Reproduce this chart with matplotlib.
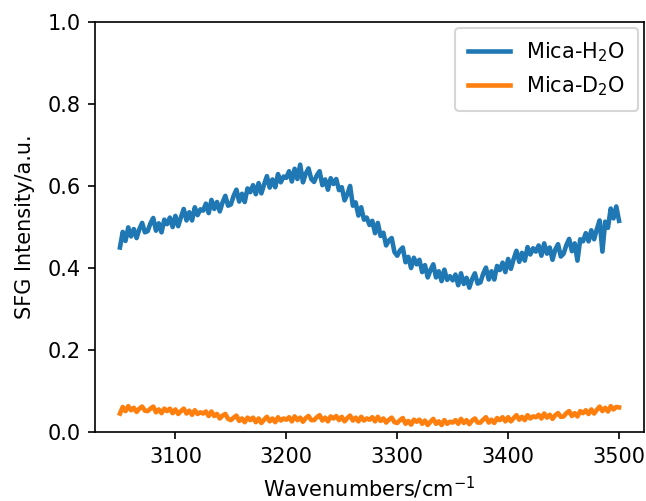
import matplotlib
matplotlib.use("Agg")
import numpy as np
import matplotlib.pyplot as plt

# spectra, one value every 2.5 cm-1
wavenumber = np.arange(3050, 3500.1, 2.5)

mica_h2o = [
    0.450, 0.488, 0.466, 0.499, 0.477, 0.495, 0.473, 0.495, 0.510, 0.487,
    0.490, 0.509, 0.522, 0.491, 0.509, 0.487, 0.518, 0.507, 0.523, 0.500,
    0.527, 0.502, 0.524, 0.544, 0.516, 0.536, 0.516, 0.548, 0.529, 0.543,
    0.540, 0.557, 0.534, 0.566, 0.544, 0.561, 0.538, 0.560, 0.576, 0.552,
    0.555, 0.576, 0.591, 0.562, 0.581, 0.561, 0.594, 0.585, 0.602, 0.580,
    0.607, 0.582, 0.604, 0.624, 0.596, 0.616, 0.597, 0.629, 0.609, 0.623,
    0.620, 0.636, 0.611, 0.642, 0.617, 0.652, 0.609, 0.630, 0.643, 0.617,
    0.610, 0.626, 0.636, 0.602, 0.616, 0.591, 0.619, 0.605, 0.617, 0.590,
    0.597, 0.565, 0.580, 0.600, 0.552, 0.560, 0.528, 0.548, 0.518, 0.523,
    0.505, 0.515, 0.485, 0.510, 0.478, 0.486, 0.455, 0.467, 0.473, 0.439,
    0.430, 0.443, 0.450, 0.414, 0.427, 0.400, 0.425, 0.409, 0.420, 0.390,
    0.407, 0.377, 0.395, 0.409, 0.377, 0.392, 0.368, 0.396, 0.371, 0.380,
    0.370, 0.384, 0.358, 0.387, 0.361, 0.376, 0.352, 0.373, 0.387, 0.362,
    0.365, 0.386, 0.401, 0.372, 0.392, 0.372, 0.405, 0.395, 0.413, 0.390,
    0.422, 0.398, 0.422, 0.442, 0.415, 0.437, 0.418, 0.451, 0.433, 0.448,
    0.440, 0.455, 0.430, 0.460, 0.435, 0.450, 0.420, 0.445, 0.458, 0.428,
    0.435, 0.456, 0.471, 0.441, 0.460, 0.418, 0.470, 0.465, 0.485, 0.465,
    0.492, 0.470, 0.495, 0.516, 0.440, 0.513, 0.498, 0.545, 0.521, 0.550,
    0.515,
]

mica_d2o = [
    0.045, 0.061, 0.051, 0.063, 0.053, 0.059, 0.049, 0.057, 0.062, 0.052,
    0.051, 0.057, 0.062, 0.048, 0.055, 0.046, 0.057, 0.051, 0.057, 0.046,
    0.055, 0.044, 0.051, 0.057, 0.045, 0.052, 0.042, 0.053, 0.044, 0.048,
    0.045, 0.050, 0.039, 0.050, 0.039, 0.044, 0.033, 0.040, 0.044, 0.032,
    0.029, 0.035, 0.040, 0.027, 0.033, 0.024, 0.035, 0.029, 0.035, 0.024,
    0.033, 0.022, 0.030, 0.037, 0.026, 0.033, 0.024, 0.036, 0.028, 0.033,
    0.030, 0.036, 0.026, 0.038, 0.029, 0.035, 0.025, 0.034, 0.039, 0.029,
    0.029, 0.036, 0.041, 0.028, 0.035, 0.026, 0.038, 0.033, 0.039, 0.029,
    0.037, 0.026, 0.034, 0.040, 0.028, 0.035, 0.026, 0.037, 0.028, 0.033,
    0.030, 0.036, 0.026, 0.037, 0.027, 0.033, 0.023, 0.030, 0.035, 0.024,
    0.022, 0.029, 0.034, 0.020, 0.027, 0.018, 0.030, 0.025, 0.030, 0.020,
    0.028, 0.017, 0.025, 0.032, 0.020, 0.026, 0.017, 0.029, 0.020, 0.025,
    0.023, 0.029, 0.020, 0.032, 0.022, 0.029, 0.019, 0.028, 0.033, 0.023,
    0.023, 0.030, 0.036, 0.023, 0.030, 0.022, 0.034, 0.029, 0.036, 0.026,
    0.036, 0.026, 0.034, 0.041, 0.030, 0.037, 0.029, 0.041, 0.033, 0.038,
    0.036, 0.042, 0.033, 0.045, 0.035, 0.042, 0.032, 0.041, 0.046, 0.037,
    0.038, 0.046, 0.051, 0.039, 0.046, 0.038, 0.051, 0.046, 0.053, 0.044,
    0.055, 0.045, 0.054, 0.062, 0.051, 0.059, 0.050, 0.063, 0.055, 0.061,
    0.060,
]

fig = plt.figure(figsize=(646 / 150, 501 / 150), dpi=150)
ax = fig.add_axes([95 / 646, 69 / 501, 549 / 646, 410 / 501])

ax.plot(wavenumber, mica_h2o, color="#1f77b4", lw=2.2, label="Mica-H$_2$O")
ax.plot(wavenumber, mica_d2o, color="#ff7f0e", lw=2.2, label="Mica-D$_2$O")

ax.set_ylim(0, 1.0)
ax.set_xticks([3100, 3200, 3300, 3400, 3500])
ax.set_xlabel("Wavenumbers/cm$^{-1}$")
ax.set_ylabel("SFG Intensity/a.u.", labelpad=6)
ax.legend(loc="upper right", borderaxespad=0.3, borderpad=0.6)

fig.savefig("out.png", dpi=150)
